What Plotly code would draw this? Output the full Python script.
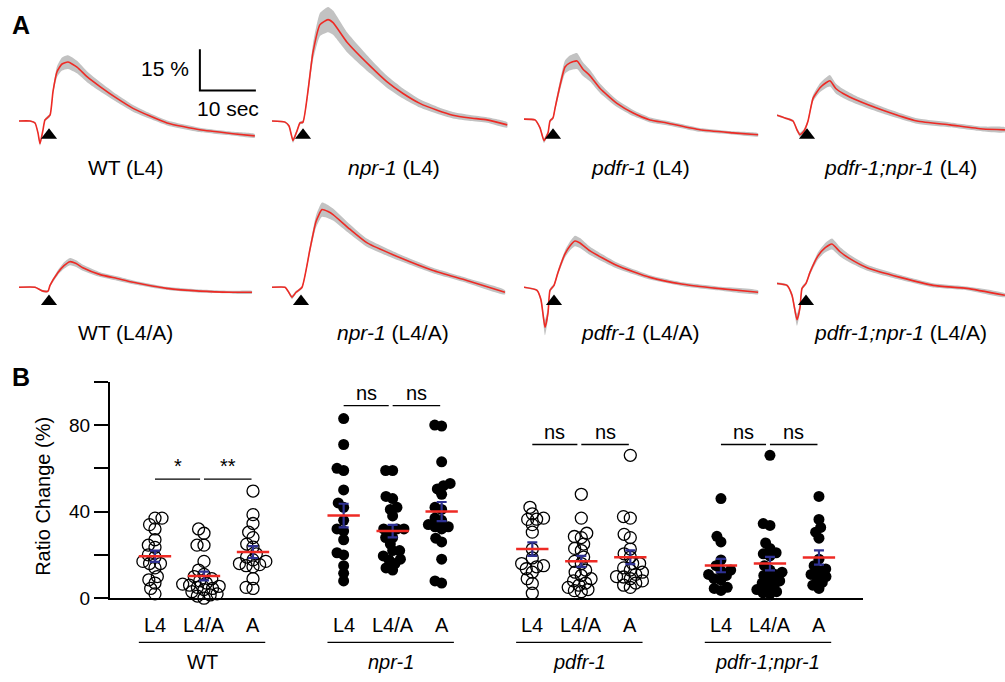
import math
import plotly.graph_objects as go

W, H = 1005, 682
FONT = "Liberation Sans, Arial, Helvetica, sans-serif"

# ---------------- Panel A data (time in s, response in %, SEM in %) ----------------
trace_labels = ["WT (L4)", "<i>npr-1</i> (L4)", "<i>pdfr-1</i> (L4)", "<i>pdfr-1;npr-1</i> (L4)",
                "WT (L4/A)", "<i>npr-1</i> (L4/A)", "<i>pdfr-1</i> (L4/A)", "<i>pdfr-1;npr-1</i> (L4/A)"]

t1 = [0, 1.96, 2.86, 3.39, 3.75, 4.29, 4.64, 5.54, 6.07, 6.79, 7.68, 8.75, 10.36, 12.14, 14.46, 17.5, 20.36, 23.39, 26.43, 32.3, 38.2, 42.1]
v1 = [0, 0, -0.7, -4.3, -8.2, -3.2, 0.4, 2.1, 10.7, 17.9, 20.7, 21.4, 19.6, 16.1, 12.5, 8.2, 4.6, 1.8, -0.7, -3.2, -4.6, -5.4]
s1 = [0.3, 0.3, 0.4, 0.6, 0.8, 0.6, 0.5, 0.6, 1.2, 2.0, 2.4, 2.5, 2.3, 2.0, 1.7, 1.4, 1.2, 1.0, 0.9, 0.8, 0.7, 0.7]

t2 = [0, 2.32, 3.04, 3.75, 4.46, 5.0, 5.54, 7.32, 8.57, 10.0, 10.9, 13.4, 17.5, 20.5, 23.4, 26.4, 29.5, 32.3, 35.4, 38.4, 42.0]
v2 = [0, -0.4, -1.8, -7.1, -3.6, -0.7, -0.4, 25, 35, 36.8, 35.7, 28.6, 20, 14.3, 10, 6.4, 3.9, 2.1, 1.1, 0.4, -1.4]
s2 = [0.3, 0.3, 0.5, 0.9, 0.7, 0.5, 0.6, 3.0, 4.2, 4.6, 4.4, 3.6, 2.7, 2.2, 1.8, 1.5, 1.3, 1.2, 1.1, 1.0, 1.0]

t3 = [0, 1.96, 2.86, 3.57, 4.29, 4.64, 5.18, 5.54, 6.43, 7.32, 8.2, 9.46, 10.5, 11.8, 13.6, 16.6, 19.5, 22.5, 25.5, 31.4, 37.3, 41.8]
v3 = [0.7, 0.4, -2.5, -7.1, -4.3, 0, 1.1, 4.6, 12.9, 19.6, 21.1, 21.8, 18.9, 16.4, 11.8, 6.4, 2.9, 0.4, -0.7, -3.2, -4.3, -5.0]
s3 = [0.3, 0.3, 0.6, 0.9, 0.7, 0.5, 0.6, 1.0, 1.8, 2.4, 2.7, 2.9, 2.5, 2.1, 1.7, 1.3, 1.1, 0.9, 0.8, 0.7, 0.6, 0.6]

t4 = [0, 1.43, 2.86, 3.57, 4.1, 4.82, 5.54, 6.43, 7.68, 8.75, 9.46, 10.5, 11.8, 14.3, 18.9, 25.0, 30.9, 36.8, 40.7]
v4 = [2.1, 1.1, 0, -3.2, -5.0, -3.6, 0, 8.2, 12.1, 13.9, 14.6, 11.8, 10, 7.5, 3.9, 0, -1.4, -2.9, -3.2]
s4 = [0.4, 0.4, 0.5, 0.7, 0.8, 0.7, 0.6, 1.2, 1.6, 1.9, 2.1, 1.8, 1.6, 1.4, 1.2, 1.0, 0.9, 0.9, 0.9]

t5 = [0, 2.86, 4.29, 5.18, 5.54, 6.96, 8.04, 9.1, 10.2, 11.4, 14.5, 17.5, 20.4, 26.4, 32.3, 38.2, 41.6]
v5 = [0, 0, -1.4, -1.4, 0.7, 5.4, 7.9, 9.3, 8.6, 7.1, 4.6, 3.2, 1.8, -0.4, -1.4, -1.8, -1.8]
s5 = [0.3, 0.3, 0.4, 0.4, 0.5, 0.9, 1.2, 1.3, 1.2, 1.1, 0.9, 0.8, 0.7, 0.6, 0.6, 0.5, 0.5]

t6 = [0, 2.32, 2.86, 3.57, 4.29, 5.36, 6.79, 7.86, 8.93, 10.0, 10.9, 13.9, 17.0, 22.9, 28.75, 34.8, 41.6]
v6 = [0, 0, -1.4, -3.6, -1.8, 0, 13.9, 23.9, 28.2, 27.5, 26.4, 21.1, 16.1, 10.7, 6.1, 2.5, -1.8]
s6 = [0.3, 0.3, 0.5, 0.7, 0.5, 0.5, 1.4, 2.2, 2.6, 2.4, 2.2, 1.8, 1.5, 1.2, 1.0, 0.9, 0.8]

t7 = [0, 2.32, 3.04, 3.75, 4.29, 4.64, 5.36, 6.07, 7.32, 8.2, 9.1, 10.0, 11.8, 16.6, 22.5, 28.4, 34.5, 41.8]
v7 = [0, -1.1, -4.6, -14.6, -9.3, -1.1, 0.7, 5.4, 12.1, 15.0, 16.8, 16.1, 13.2, 7.9, 3.6, 1.1, -0.4, -1.8]
s7 = [0.3, 0.4, 1.0, 2.8, 2.0, 0.7, 0.6, 0.9, 1.3, 1.6, 1.9, 1.8, 1.5, 1.1, 0.8, 0.7, 0.7, 0.7]

t8 = [0, 1.79, 2.68, 3.57, 4.1, 4.46, 5.18, 5.89, 7.32, 8.57, 9.82, 11.25, 13.0, 16.1, 22.0, 27.9, 33.9, 40.7]
v8 = [1.4, 0.7, -2.9, -11.8, -7.5, -0.4, 1.4, 5.4, 11.4, 14.3, 15.7, 12.9, 10.4, 7.1, 3.6, 0.7, -0.4, -2.9]
s8 = [0.4, 0.4, 1.0, 2.2, 1.6, 0.7, 0.6, 0.9, 1.3, 1.7, 2.0, 1.7, 1.4, 1.1, 0.9, 0.8, 0.7, 0.7]

stim_times = [5.36, 5.54, 5.18, 5.36, 5.36, 5.18, 5.36, 5.18]
scale_pct = 15
scale_sec = 10

# ---------------- Panel B data (Ratio change %) ----------------
genotypes = ["WT", "<i>npr-1</i>", "<i>pdfr-1</i>", "<i>pdfr-1;npr-1</i>"]
stages = ["L4", "L4/A", "A"]
filled = [False, True, False, True]

wt_l4 = [37, 37, 34, 32, 27, 24.5, 23.5, 20, 19, 17, 16, 16, 14, 10, 8.5, 7, 4.5, 2]
wt_l4a = [32, 30, 24.5, 24.5, 17, 13, 11, 10, 9, 8, 7, 6.5, 6, 5.5, 5, 4.5, 4, 3, 2, 1.5, 1, 0]
wt_a = [49.5, 38.6, 34.5, 30.5, 28, 25, 23.6, 19, 20.5, 16, 17.7, 17, 15.5, 15, 14.5, 9, 5, 4.5]

npr_l4 = [83, 71, 60, 59, 50, 44, 42, 36, 32, 31, 27, 21, 20, 15, 11.5, 8]
npr_l4a = [59, 59, 47, 46, 42, 41, 38, 32, 32, 32, 31, 28, 28, 25, 22, 22, 19.5, 18, 17.7, 16, 14, 13]
npr_a = [80, 79.5, 63, 53, 52, 50.5, 48, 42, 41, 37, 36, 34, 33, 33, 32, 27.7, 26, 18, 8, 7]

pdfr_l4 = [42, 39, 37, 36.5, 36.4, 34, 30.5, 22.7, 18.6, 16, 15, 14.5, 13.6, 12, 9, 6.8, 2.3]
pdfr_l4a = [48, 37, 30, 28.5, 28, 25, 23, 22, 19, 17, 16, 13, 12, 10.5, 9, 8, 7, 6, 5, 4, 3.5, 3]
pdfr_a = [66, 37.7, 37, 29.5, 28, 22.7, 20.5, 19, 16, 16, 14, 13, 12, 11, 10, 9.8, 9, 8, 7, 6, 5]

dbl_l4 = [46, 28.6, 26, 17.7, 15, 13, 12.7, 11, 10.5, 9, 8.5, 5, 4.5, 3.6]
dbl_l4a = [66, 34.5, 33.6, 25.5, 23, 21, 20.5, 19.5, 15, 13, 12, 11, 10.5, 9, 8, 7, 6, 5, 4, 3, 2.5, 2]
dbl_a = [47, 36.4, 32.7, 30.5, 27.7, 18, 15, 13.5, 12.7, 11, 10, 9.5, 7.3, 6, 4.5]

group_data = [[wt_l4, wt_l4a, wt_a], [npr_l4, npr_l4a, npr_a],
              [pdfr_l4, pdfr_l4a, pdfr_a], [dbl_l4, dbl_l4a, dbl_a]]
sig_labels = [["*", "**"], ["ns", "ns"], ["ns", "ns"], ["ns", "ns"]]
sig_heights = [55, 89, 71, 71]

y_ticks = [0, 20, 40, 60, 80, 100]
y_ticktext = ["0", "", "40", "", "80", ""]

# ---------------- Layout helpers ----------------
def pxx(p):
    return p / W


def pxy(p):
    return 1 - p / H


PX_S, PX_PCT = 5.6, 2.8
trace_x0 = [19, 272, 524, 777]
row_top, row_bot, row_base = [0, 178], [160, 352], [123, 292]
lab_x = [[125, 394, 640, 900], [125, 393, 640, 900]]
lab_y = [170, 338]
RED, GRAY, NAVY = "#ee2a24", "#c2c2c2", "#2e3192"

fig = go.Figure()
layout = dict(width=W, height=H, margin=dict(l=0, r=0, t=0, b=0),
              paper_bgcolor="white", plot_bgcolor="rgba(0,0,0,0)",
              showlegend=False, font=dict(family=FONT, color="black"))
annotations, shapes = [], []

traces = [(t1, v1, s1), (t2, v2, s2), (t3, v3, s3), (t4, v4, s4),
          (t5, v5, s5), (t6, v6, s6), (t7, v7, s7), (t8, v8, s8)]

for k, (tt, vv, ss) in enumerate(traces):
    r, c = divmod(k, 4)
    n = k + 1
    xs = "" if n == 1 else str(n)
    x0 = trace_x0[c]
    x1 = min(x0 + 236, W)
    if k == 0:
        x1 = 264
    layout["xaxis" + xs] = dict(domain=[pxx(x0), pxx(x1)], range=[0, (x1 - x0) / PX_S],
                                visible=False, anchor="y" + xs, fixedrange=True)
    layout["yaxis" + xs] = dict(domain=[pxy(row_bot[r]), pxy(row_top[r])],
                                range=[(row_base[r] - row_bot[r]) / PX_PCT, (row_base[r] - row_top[r]) / PX_PCT],
                                visible=False, anchor="x" + xs, fixedrange=True)
    up = [a + b for a, b in zip(vv, ss)]
    lo = [a - b for a, b in zip(vv, ss)]
    fig.add_trace(go.Scatter(x=list(tt) + list(tt)[::-1], y=up + lo[::-1], fill="toself",
                             fillcolor=GRAY, line=dict(width=0, shape="spline", smoothing=0.5),
                             mode="lines", xaxis="x" + xs, yaxis="y" + xs, hoverinfo="skip"))
    fig.add_trace(go.Scatter(x=tt, y=vv, mode="lines",
                             line=dict(color=RED, width=1.6, shape="spline", smoothing=0.5),
                             xaxis="x" + xs, yaxis="y" + xs))
    fig.add_trace(go.Scatter(x=[stim_times[k]], y=[-5.2], mode="markers",
                             marker=dict(symbol="triangle-up", size=14, color="black"),
                             xaxis="x" + xs, yaxis="y" + xs, cliponaxis=False))
    annotations.append(dict(text=trace_labels[k], x=pxx(lab_x[r][c]), y=pxy(lab_y[r]),
                            xref="paper", yref="paper", showarrow=False,
                            font=dict(size=21, family=FONT), xanchor="center", yanchor="middle"))

# scale bar in first trace panel
sb_t, sb_v = 32.3, 11.07
fig.add_trace(go.Scatter(x=[sb_t, sb_t, sb_t + scale_sec], y=[sb_v + scale_pct, sb_v, sb_v],
                         mode="lines", line=dict(color="black", width=2), xaxis="x", yaxis="y",
                         cliponaxis=False))
annotations.append(dict(text=f"{scale_pct} %", x=pxx(191), y=pxy(70), xref="paper", yref="paper",
                        showarrow=False, xanchor="right", yanchor="middle", font=dict(size=21, family=FONT)))
annotations.append(dict(text=f"{scale_sec} sec", x=pxx(228), y=pxy(110), xref="paper", yref="paper",
                        showarrow=False, xanchor="center", yanchor="middle", font=dict(size=21, family=FONT)))

# panel letters
annotations.append(dict(text="<b>A</b>", x=pxx(10), y=pxy(25), xref="paper", yref="paper",
                        showarrow=False, xanchor="left", yanchor="middle", font=dict(size=25, family=FONT)))
annotations.append(dict(text="<b>B</b>", x=pxx(10), y=pxy(383), xref="paper", yref="paper",
                        showarrow=False, xanchor="left", yanchor="middle", font=dict(size=25, family=FONT)))

# ---------------- Panel B ----------------
UNIT = 49.0          # px per category step
GSTEP = 3.85         # category units between groups
PX_Y = 2.2           # px per % on panel B
L_PX, R_PX = 110, 863
FIRST_PX = 155


def pos(g, i):
    return g * GSTEP + i


def beeswarm(vals, D=7.0):
    n = len(vals)
    order = sorted(range(n), key=lambda i: vals[i])
    placed, offs = [], [0.0] * n
    for i in order:
        y = vals[i] * PX_Y
        cands = [0.0]
        for xj, yj in placed:
            dy = abs(y - yj)
            if dy < D:
                dx = math.sqrt(D * D - dy * dy)
                cands += [xj + dx, xj - dx]
        cands.sort(key=lambda v: (abs(v), v))
        chosen = cands[-1]
        for cnd in cands:
            if all((cnd - xj) ** 2 + (y - yj) ** 2 >= D * D - 1e-6 for xj, yj in placed):
                chosen = cnd
                break
        placed.append((chosen, y))
        offs[i] = chosen / UNIT
    return offs


layout["xaxis9"] = dict(domain=[pxx(L_PX), pxx(R_PX)],
                        range=[-(FIRST_PX - L_PX) / UNIT, (R_PX - FIRST_PX) / UNIT],
                        showline=True, linecolor="black", linewidth=2, showticklabels=False,
                        ticks="", showgrid=False, zeroline=False, anchor="y9", fixedrange=True)
layout["yaxis9"] = dict(domain=[pxy(608), pxy(388)], range=[0, 100], showline=True,
                        linecolor="black", linewidth=2, ticks="outside", ticklen=14, tickwidth=2,
                        tickcolor="black", tickvals=y_ticks, ticktext=y_ticktext,
                        tickfont=dict(size=19, family=FONT), showgrid=False, zeroline=False,
                        anchor="x9", fixedrange=True)

mean_x, mean_y, err_x, err_y, err_s = [], [], [], [], []
for g, groups in enumerate(group_data):
    for i, vals in enumerate(groups):
        p = pos(g, i)
        offs = beeswarm(vals)
        if filled[g]:
            mk = dict(symbol="circle", size=11, color="black")
        else:
            mk = dict(symbol="circle-open", size=12, color="black", line=dict(width=1.3, color="black"))
        fig.add_trace(go.Scatter(x=[p + o for o in offs], y=vals, mode="markers", marker=mk,
                                 xaxis="x9", yaxis="y9", cliponaxis=False))
        m = sum(vals) / len(vals)
        sd = math.sqrt(sum((v - m) ** 2 for v in vals) / (len(vals) - 1))
        sem = sd / math.sqrt(len(vals))
        err_x.append(p); err_y.append(m); err_s.append(sem)
        mean_x += [p - 0.33, p + 0.33, None]
        mean_y += [m, m, None]
        annotations.append(dict(text=stages[i], x=p, y=pxy(635), xref="x9", yref="paper",
                                showarrow=False, xanchor="center", yanchor="middle",
                                font=dict(size=20, family=FONT)))
    # group underline and label
    gx0, gx1 = pos(g, 0) - 0.33, pos(g, 2) + 0.25
    shapes.append(dict(type="line", xref="x9", yref="paper", x0=gx0, x1=gx1,
                       y0=pxy(653), y1=pxy(653), line=dict(color="black", width=1.3)))
    annotations.append(dict(text=genotypes[g], x=(gx0 + gx1) / 2, y=pxy(673), xref="x9", yref="paper",
                            showarrow=False, xanchor="center", yanchor="middle",
                            font=dict(size=20, family=FONT)))
    # significance brackets
    hgt = sig_heights[g]
    segs = [(pos(g, 0) + 0.0, pos(g, 1) - 0.08), (pos(g, 1) + 0.0, pos(g, 2) - 0.03)]
    for j, (a, b) in enumerate(segs):
        shapes.append(dict(type="line", xref="x9", yref="y9", x0=a, x1=b, y0=hgt, y1=hgt,
                           line=dict(color="black", width=1.3)))
        annotations.append(dict(text=sig_labels[g][j], x=(a + b) / 2, y=hgt, xref="x9", yref="y9",
                                showarrow=False, xanchor="center", yanchor="bottom", yshift=0,
                                font=dict(size=20, family=FONT)))

fig.add_trace(go.Scatter(x=err_x, y=err_y, mode="markers", marker=dict(size=1, color="rgba(0,0,0,0)"),
                         error_y=dict(type="data", array=err_s, visible=True, color=NAVY,
                                      thickness=2.2, width=5),
                         xaxis="x9", yaxis="y9", cliponaxis=False))
fig.add_trace(go.Scatter(x=mean_x, y=mean_y, mode="lines", line=dict(color=RED, width=2.5),
                         xaxis="x9", yaxis="y9", cliponaxis=False))

annotations.append(dict(text="Ratio Change (%)", x=pxx(43), y=pxy(505), xref="paper", yref="paper",
                        showarrow=False, textangle=-90, xanchor="center", yanchor="middle",
                        font=dict(size=20, family=FONT)))

layout["annotations"] = annotations
layout["shapes"] = shapes
fig.update_layout(**layout)
fig.write_html("out.html", config={"displayModeBar": False},
               post_script="document.body.style.margin='0px';document.body.style.padding='0px';")
